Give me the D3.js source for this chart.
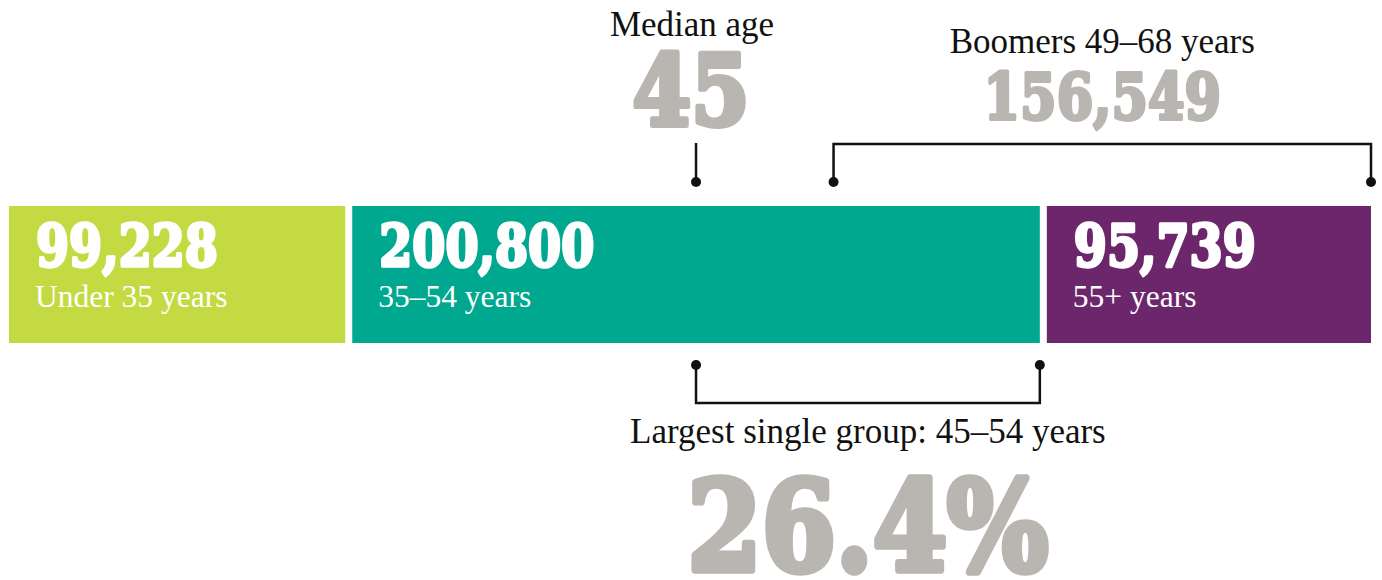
<!DOCTYPE html>
<html>
<head>
<meta charset="utf-8">
<script src="https://cdn.jsdelivr.net/npm/d3@7"></script>
<style>
  html, body { margin: 0; padding: 0; background: #fff; }
  svg { display: block; }
</style>
</head>
<body>
<div id="chart"></div>
<script>
// population by age group
const groups = ["Under 35 years", "35–54 years", "55+ years"];
const counts = [99228, 200800, 95739];
const groupColors = ["#c4da42", "#00a88f", "#6c266b"];
// ages covered by the middle bar (35 up to 55) and the end of the last bar (68 inclusive)
const ageBreaks = [35, 55, 69];

// annotations
const medianAge = 45;
const boomerAges = [49, 68];
const boomerCount = 156549;
const largestAges = [45, 54];
const largestShare = 26.4;

const width = 1382;
const height = 580;
const barTop = 206;
const barHeight = 137;
const gap = 7;
const grey = "#b9b5b1";
const ink = "#111";
const serif = "'Liberation Serif', 'Times New Roman', serif";
const slab = "'DejaVu Serif', serif";
const fmt = d3.format(",");

const svg = d3.select("#chart")
  .append("svg")
  .attr("width", width)
  .attr("height", height);

// Bar scale (cumulative counts)
const total = d3.sum(counts);
const ends = Array.from(d3.cumsum(counts));
const starts = ends.map((e, i) => e - counts[i]);
const x = d3.scaleLinear()
  .domain([0, total])
  .range([9, width - 11 + gap]);

const segs = groups.map((g, i) => ({
  label: g,
  value: counts[i],
  color: groupColors[i],
  x0: x(starts[i]),
  x1: x(ends[i]) - gap
}));

// Age scale laid over the middle and last bars
const ageX = d3.scaleLinear()
  .domain(ageBreaks)
  .range([segs[1].x0, segs[1].x1, segs[2].x1]);

// Heavy slab numbers, narrowed a little and thickened with a stroke
function bigNumber(g, px, py, text, size, color, anchor, sx) {
  g.append("text")
    .attr("transform", `translate(${px},${py}) scale(${sx || 0.82},1)`)
    .attr("text-anchor", anchor)
    .attr("font-family", slab)
    .attr("font-weight", "bold")
    .attr("font-size", size)
    .attr("fill", color)
    .attr("stroke", color)
    .attr("stroke-width", size / 17)
    .attr("stroke-linejoin", "round")
    .text(text);
}

function label(g, px, py, text, size, color, anchor) {
  g.append("text")
    .attr("x", px)
    .attr("y", py)
    .attr("text-anchor", anchor)
    .attr("font-family", serif)
    .attr("font-size", size)
    .attr("fill", color)
    .text(text);
}

// Bars
const bars = svg.append("g");
bars.selectAll("rect")
  .data(segs)
  .enter()
  .append("rect")
  .attr("x", d => d.x0)
  .attr("y", barTop)
  .attr("width", d => d.x1 - d.x0)
  .attr("height", barHeight)
  .attr("fill", d => d.color);

segs.forEach(d => {
  bigNumber(bars, d.x0 + 27, barTop + 60, fmt(d.value), 58, "#fff", "start");
  label(bars, d.x0 + 26, barTop + 101, d.label, 31.5, "#fff", "start");
});

const notes = svg.append("g");

function dot(px, py) {
  notes.append("circle")
    .attr("cx", px)
    .attr("cy", py)
    .attr("r", 5)
    .attr("fill", ink);
}

function bracket(xa, xb, yEnd, yBar) {
  notes.append("path")
    .attr("d", `M${xa},${yEnd}V${yBar}H${xb}V${yEnd}`)
    .attr("fill", "none")
    .attr("stroke", ink)
    .attr("stroke-width", 2.5);
  dot(xa, yEnd);
  dot(xb, yEnd);
}

// Median age
const mx = ageX(medianAge);
notes.append("line")
  .attr("x1", mx).attr("x2", mx)
  .attr("y1", 143).attr("y2", 182)
  .attr("stroke", ink)
  .attr("stroke-width", 2.5);
dot(mx, 182);
label(notes, mx - 4, 36, "Median age", 35, ink, "middle");
bigNumber(notes, mx - 5, 125, String(medianAge), 98, grey, "middle", 0.86);

// Boomers
const bx0 = ageX(boomerAges[0]);
const bx1 = ageX(boomerAges[1] + 1);
bracket(bx0, bx1, 182, 144);
label(notes, (bx0 + bx1) / 2, 53, `Boomers ${boomerAges[0]}–${boomerAges[1]} years`, 35, ink, "middle");
bigNumber(notes, (bx0 + bx1) / 2, 119, fmt(boomerCount), 64, grey, "middle");

// Largest single group
const lx0 = ageX(largestAges[0]);
const lx1 = ageX(largestAges[1] + 1);
bracket(lx0, lx1, 365, 403);
label(notes, (lx0 + lx1) / 2, 443, `Largest single group: ${largestAges[0]}–${largestAges[1]} years`, 35, ink, "middle");
bigNumber(notes, (lx0 + lx1) / 2, 570, `${largestShare}%`, 124, grey, "middle", 0.86);
</script>
</body>
</html>
